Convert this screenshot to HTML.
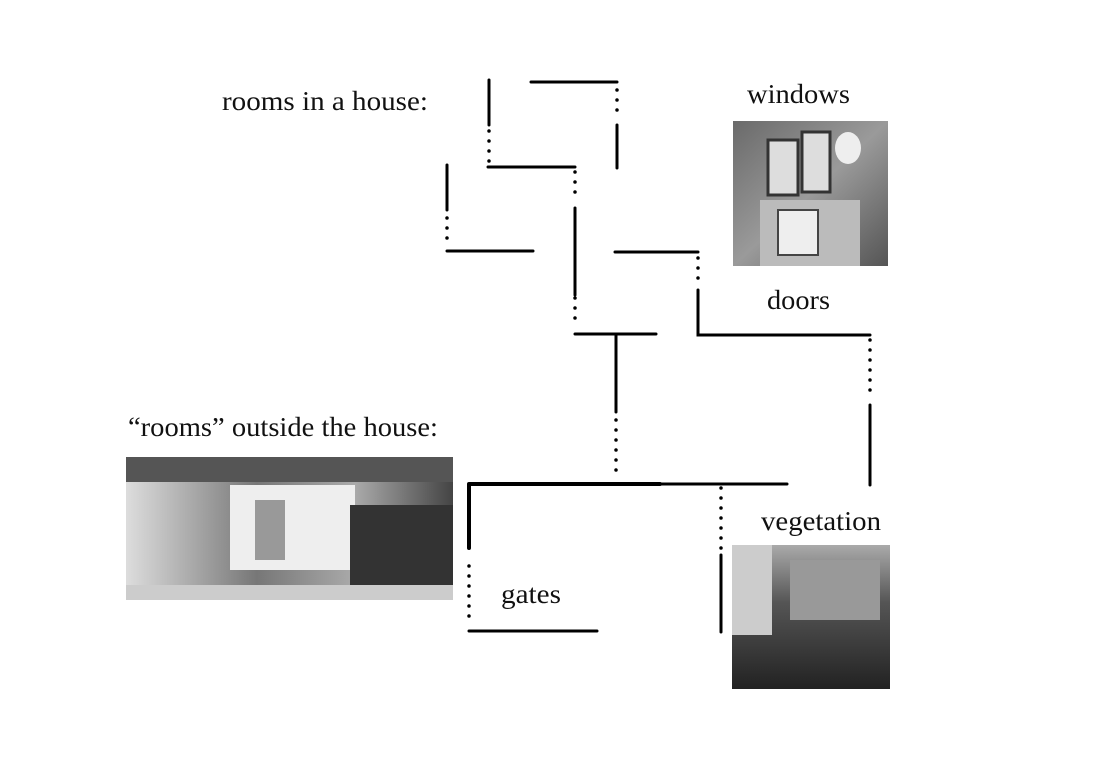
<!DOCTYPE html>
<html><head><meta charset="utf-8"><style>
html,body{margin:0;padding:0;background:#fff;}
svg{display:block;}
text{font-family:"Liberation Serif",serif;font-size:27px;fill:#111;}
</style></head><body>
<svg width="1096" height="782" viewBox="0 0 1096 782" xmlns="http://www.w3.org/2000/svg">
<defs>
<linearGradient id="g1" x1="0" y1="0" x2="1" y2="1"><stop offset="0" stop-color="#6a6a6a"/><stop offset="0.5" stop-color="#9a9a9a"/><stop offset="1" stop-color="#555"/></linearGradient>
<linearGradient id="g2" x1="0" y1="0" x2="1" y2="0"><stop offset="0" stop-color="#ddd"/><stop offset="0.4" stop-color="#777"/><stop offset="0.7" stop-color="#aaa"/><stop offset="1" stop-color="#444"/></linearGradient>
<linearGradient id="g3" x1="0" y1="0" x2="0" y2="1"><stop offset="0" stop-color="#aaa"/><stop offset="0.4" stop-color="#555"/><stop offset="1" stop-color="#222"/></linearGradient>
</defs>
<g stroke="#000" stroke-width="3" fill="none" stroke-linecap="round">
<path d="M489 80V125"/>
<path d="M531 82H617"/>
<path d="M617 125V168"/>
<path d="M488 167H575"/>
<path d="M575 208V295"/>
<path d="M447 165V210"/>
<path d="M447 251H533"/>
<path d="M615 252H698"/>
<path d="M698 290V335H870"/>
<path d="M870 405V485"/>
<path d="M575 334H656"/>
<path d="M616 334V412"/>
<path d="M660 484H787"/>
<path d="M469 631H597"/>
<path d="M721 555V632"/>
<path d="M469 484H660M469 484V548" stroke-width="4"/>
</g>
<g stroke="#000" stroke-width="3.5" fill="none" stroke-linecap="round" stroke-dasharray="0 10">
<path d="M489 131V162"/>
<path d="M617 90V118"/>
<path d="M575 172V202"/>
<path d="M575 298V328"/>
<path d="M447 218V245"/>
<path d="M698 258V285"/>
<path d="M870 340V400"/>
<path d="M616 420V475"/>
<path d="M469 566V626"/>
<path d="M721 488V550"/>
</g>
<rect x="733" y="121" width="155" height="145" fill="url(#g1)"/>
<rect x="768" y="140" width="30" height="55" fill="#ddd" stroke="#333" stroke-width="3"/>
<rect x="802" y="132" width="28" height="60" fill="#ddd" stroke="#333" stroke-width="3"/>
<ellipse cx="848" cy="148" rx="13" ry="16" fill="#eee"/>
<rect x="760" y="200" width="100" height="66" fill="#bbb"/>
<rect x="778" y="210" width="40" height="45" fill="#eee" stroke="#444" stroke-width="2"/>
<rect x="126" y="457" width="327" height="143" fill="url(#g2)"/>
<rect x="126" y="457" width="327" height="25" fill="#555"/>
<rect x="230" y="485" width="125" height="85" fill="#eee"/>
<rect x="255" y="500" width="30" height="60" fill="#999"/>
<rect x="350" y="505" width="103" height="80" fill="#333"/>
<rect x="126" y="585" width="327" height="15" fill="#ccc"/>
<rect x="732" y="545" width="158" height="144" fill="url(#g3)"/>
<rect x="790" y="560" width="90" height="60" fill="#999"/>
<rect x="732" y="545" width="40" height="90" fill="#ccc"/>
<text x="222" y="110" textLength="206" lengthAdjust="spacingAndGlyphs">rooms in a house:</text>
<text x="747" y="103" textLength="103" lengthAdjust="spacingAndGlyphs">windows</text>
<text x="767" y="309" textLength="63" lengthAdjust="spacingAndGlyphs">doors</text>
<text x="128" y="436" textLength="310" lengthAdjust="spacingAndGlyphs">“rooms” outside the house:</text>
<text x="501" y="603" textLength="60" lengthAdjust="spacingAndGlyphs">gates</text>
<text x="761" y="530" textLength="120" lengthAdjust="spacingAndGlyphs">vegetation</text>
</svg>
</body></html>
